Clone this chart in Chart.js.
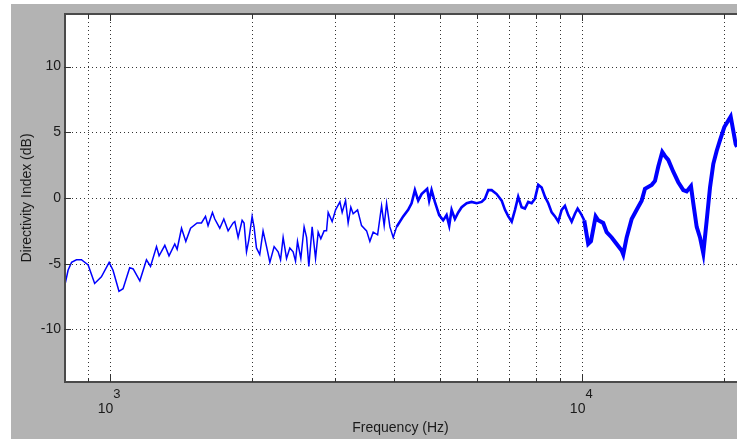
<!DOCTYPE html>
<html>
<head>
<meta charset="utf-8">
<script src="https://cdn.jsdelivr.net/npm/chart.js@4.4.1/dist/chart.umd.min.js"></script>
<style>
    html, body { margin: 0; padding: 0; background: #fff; overflow: hidden; }
    #wrap { position: relative; width: 737px; height: 439px; }
</style>
</head>
<body>
<div id="wrap"><canvas id="diChart" width="737" height="439"></canvas></div>
<script>
// frequency (Hz) and directivity index (dB)
const freqHz = [
    805, 816, 830, 850, 871, 900, 929, 960, 997, 1016,
    1046, 1067, 1102, 1121, 1158, 1196, 1220, 1256, 1272, 1308,
    1335, 1373, 1389, 1419, 1449, 1483, 1531, 1564, 1595, 1615,
    1650, 1669, 1710, 1744, 1781, 1825, 1840, 1870, 1907, 1925,
    1948, 1970, 2002, 2021, 2045, 2078, 2112, 2148, 2183, 2229,
    2273, 2300, 2329, 2368, 2406, 2445, 2474, 2498, 2539, 2580,
    2611, 2640, 2683, 2728, 2763, 2799, 2844, 2878, 2901, 2958,
    3008, 3072, 3106, 3158, 3198, 3240, 3277, 3348, 3414, 3499,
    3555, 3613, 3692, 3764, 3812, 3857, 3920, 3984, 4050, 4182,
    4285, 4357, 4428, 4500, 4575, 4701, 4747, 4803, 4881, 4985,
    5083, 5168, 5235, 5296, 5382, 5470, 5562, 5700, 5839, 5983,
    6131, 6231, 6333, 6439, 6598, 6761, 6871, 6983, 7100, 7215,
    7328, 7451, 7572, 7695, 7824, 7952, 8081, 8216, 8350, 8486,
    8628, 8768, 8910, 9058, 9204, 9354, 9511, 9665, 9792, 9952,
    10113, 10311, 10449, 10691, 10827, 11094, 11280, 11559, 11844, 12137,
    12232, 12437, 12744, 13059, 13381, 13599, 14051, 14279, 14511, 14795,
    14991, 15234, 15611, 15996, 16391, 16665, 17018, 17211, 17499, 17783,
    18072, 18375, 18673, 18977, 19294, 19608, 20023, 20417, 20654, 20919,
    21162, 21300
];
const diDb = [
    -6.5, -5.5, -4.9, -4.7, -4.7, -5.1, -6.5, -6.0, -4.9, -5.5,
    -7.1, -6.9, -5.3, -5.4, -6.3, -4.7, -5.2, -3.7, -4.4, -3.6,
    -4.4, -3.5, -3.9, -2.3, -3.3, -2.3, -1.9, -1.9, -1.4, -2.1,
    -1.1, -1.6, -2.3, -1.6, -2.5, -1.9, -1.8, -3.0, -1.7, -1.9,
    -4.1, -3.2, -1.4, -2.2, -3.8, -4.3, -2.5, -3.7, -4.9, -3.7,
    -4.1, -4.7, -3.0, -4.6, -3.8, -4.1, -4.8, -3.3, -4.6, -2.2,
    -3.0, -5.2, -2.2, -4.6, -2.6, -3.1, -2.5, -2.5, -1.1, -1.8,
    -0.9, -0.3, -1.1, -0.2, -1.9, -0.7, -1.2, -0.9, -2.1, -2.5,
    -3.3, -2.6, -2.8, -0.6, -2.1, -0.4, -2.2, -3.0, -2.2, -1.4,
    -0.9, -0.4, 0.6, -0.2, 0.3, 0.7, -0.2, 0.6, -0.3, -1.3,
    -1.7, -1.3, -2.1, -0.9, -1.6, -1.1, -0.7, -0.4, -0.3, -0.4,
    -0.3, -0.05, 0.6, 0.6, 0.3, -0.2, -0.9, -1.4, -1.8, -0.9,
    0.1, -0.7, -0.8, -0.3, -0.4, -0.05, 1.0, 0.8, 0.1, -0.4,
    -1.1, -1.4, -1.8, -0.9, -0.6, -1.3, -1.8, -1.2, -0.8, -1.2,
    -1.7, -3.5, -3.3, -1.4, -1.7, -1.9, -2.6, -3.0, -3.5, -4.0,
    -4.3, -3.0, -1.6, -0.9, -0.2, 0.7, 1.0, 1.3, 2.4, 3.5,
    3.2, 2.9, 2.0, 1.2, 0.6, 0.5, 0.9, -0.4, -2.2, -3.0,
    -4.2, -1.7, 0.8, 2.6, 3.6, 4.4, 5.4, 5.9, 6.2, 5.1,
    4.1, 3.9
];
const yTicks = [-10, -5, 0, 5, 10];
const xGridHz = [900, 1000, 2000, 3000, 4000, 5000, 6000, 7000, 8000, 9000, 10000, 20000];
const xMajorHz = [1000, 10000];

Chart.defaults.font.family = "'Liberation Sans', Arial, sans-serif";

const points = freqHz.map((f, i) => ({ x: f, y: diDb[i] }));

// draws the matlab style figure: grey frame, dotted grid, box, ticks, 10^n labels
const matlabFrame = {
    id: 'matlabFrame',
    beforeDraw(chart) {
        const { ctx, chartArea: a } = chart;
        ctx.save();
        ctx.fillStyle = '#b3b3b3';
        ctx.fillRect(11, 4, chart.width - 11, chart.height - 4);
        ctx.fillStyle = '#fff';
        ctx.fillRect(a.left, a.top, a.right - a.left, a.bottom - a.top);
        ctx.restore();
    },
    beforeDatasetsDraw(chart) {
        const { ctx, chartArea: a, scales } = chart;
        ctx.save();
        ctx.strokeStyle = '#333';
        ctx.lineWidth = 1;
        ctx.setLineDash([1, 3]);
        yTicks.forEach(v => {
            const y = Math.round(scales.y.getPixelForValue(v)) + 0.5;
            ctx.beginPath();
            ctx.moveTo(a.left, y);
            ctx.lineTo(a.right, y);
            ctx.stroke();
        });
        xGridHz.forEach(v => {
            const x = Math.round(scales.x.getPixelForValue(v)) + 0.5;
            ctx.beginPath();
            ctx.moveTo(x, a.top);
            ctx.lineTo(x, a.bottom);
            ctx.stroke();
        });
        ctx.restore();
    },
    afterDatasetsDraw(chart) {
        const { ctx, chartArea: a, scales } = chart;
        ctx.save();
        ctx.strokeStyle = '#4a4a4a';
        ctx.lineWidth = 2;
        ctx.beginPath();
        ctx.moveTo(a.right, a.top);
        ctx.lineTo(a.left + 1, a.top);
        ctx.lineTo(a.left + 1, a.bottom);
        ctx.lineTo(a.right, a.bottom);
        ctx.stroke();

        ctx.lineWidth = 1;
        ctx.strokeStyle = '#333';
        yTicks.forEach(v => {
            const y = Math.round(scales.y.getPixelForValue(v)) + 0.5;
            ctx.beginPath();
            ctx.moveTo(a.left, y);
            ctx.lineTo(a.left + 7, y);
            ctx.stroke();
        });
        xGridHz.forEach(v => {
            const x = Math.round(scales.x.getPixelForValue(v)) + 0.5;
            const len = xMajorHz.includes(v) ? 7 : 4;
            ctx.beginPath();
            ctx.moveTo(x, a.bottom);
            ctx.lineTo(x, a.bottom - len);
            ctx.moveTo(x, a.top);
            ctx.lineTo(x, a.top + len);
            ctx.stroke();
        });

        ctx.fillStyle = '#1a1a1a';
        ctx.textBaseline = 'alphabetic';
        xMajorHz.forEach(v => {
            const x = scales.x.getPixelForValue(v);
            ctx.font = "14px 'Liberation Sans', Arial, sans-serif";
            ctx.textAlign = 'right';
            ctx.fillText('10', x + 3.5, a.bottom + 31);
            ctx.font = "13px 'Liberation Sans', Arial, sans-serif";
            ctx.textAlign = 'left';
            ctx.fillText(String(Math.round(Math.log10(v))), x + 3.5, a.bottom + 16);
        });
        ctx.restore();
    }
};

new Chart(document.getElementById('diChart'), {
    type: 'scatter',
    data: {
        datasets: [{
            label: 'Directivity Index',
            data: points,
            showLine: true,
            borderColor: '#0000ff',
            borderWidth: 1.5,
            pointRadius: 0,
            tension: 0,
            segment: {
                // the measured trace gets fuzzier (thicker) towards the top end
                borderWidth: c => c.p0.parsed.x >= 10000 ? 4 : (c.p0.parsed.x >= 4000 ? 2.6 : 1.5)
            }
        }]
    },
    options: {
        responsive: false,
        animation: false,
        devicePixelRatio: 1,
        layout: { padding: { top: 14, left: 0, right: 0, bottom: 0 } },
        plugins: {
            legend: { display: false },
            tooltip: { enabled: false }
        },
        scales: {
            x: {
                type: 'logarithmic',
                min: 800,
                max: 21300,
                grid: { display: false },
                border: { display: false },
                ticks: { display: false },
                title: {
                    display: true,
                    text: 'Frequency (Hz)',
                    color: '#1a1a1a',
                    font: { size: 14 },
                    padding: { top: 0, bottom: 2 }
                },
                afterFit: s => { s.height = 57; }
            },
            y: {
                min: -14,
                max: 14,
                grid: { display: false, drawTicks: false },
                border: { display: false },
                afterBuildTicks: s => { s.ticks = yTicks.map(v => ({ value: v })); },
                ticks: { color: '#1a1a1a', font: { size: 14 }, padding: 3 },
                title: {
                    display: true,
                    text: 'Directivity Index (dB)',
                    color: '#1a1a1a',
                    font: { size: 14 },
                    padding: { top: 19, bottom: 0 }
                },
                afterFit: s => { s.width = 64; }
            }
        }
    },
    plugins: [matlabFrame]
});
</script>
</body>
</html>
